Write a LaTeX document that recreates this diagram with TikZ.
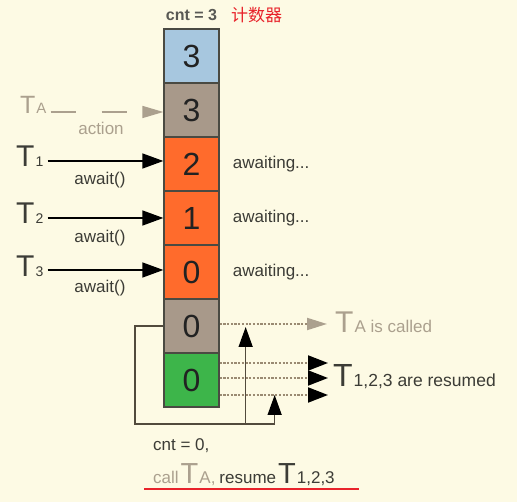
\documentclass[tikz,border=0pt]{standalone}
\usepackage{fontspec}
\setmainfont{Liberation Sans}
\newfontfamily\cjkfont{Noto Sans CJK SC}
\usetikzlibrary{arrows.meta}
\definecolor{bg}{HTML}{FDFAE4}
\definecolor{cblue}{HTML}{A7C7DF}
\definecolor{ctaupe}{HTML}{A8998A}
\definecolor{corange}{HTML}{FF6B2C}
\definecolor{cgreen}{HTML}{3DB54A}
\definecolor{cborder}{HTML}{4A4A42}
\definecolor{cdigit}{HTML}{222222}
\definecolor{cdark}{HTML}{3C3C36}
\definecolor{cgray}{HTML}{ABA08E}
\definecolor{cdot}{HTML}{9A8A72}
\definecolor{cloop}{HTML}{524A3C}
\definecolor{cred}{HTML}{E8232B}
\newcommand\Tlab[3]{{\fontsize{#1}{#1}\selectfont T}\kern1pt{\fontsize{#2}{#2}\selectfont #3}}
\begin{document}
\begin{tikzpicture}[x=1pt,y=-1pt,
  cell/.style={draw=cborder,line width=1.3pt,minimum width=55pt,minimum height=54pt,inner sep=0pt,text=cdigit,font=\fontsize{32}{32}\selectfont},
  lbl/.style={inner sep=0pt,anchor=base west},
  txt/.style={inner sep=0pt,font=\fontsize{17}{17}\selectfont,text=cdark},
  gtxt/.style={txt,text=cgray},
  blkarr/.style={draw=black,line width=1.5pt,-{Triangle[length=21pt,width=15pt]}},
  grayarr/.style={draw=cgray,line width=1.5pt,-{Triangle[length=21pt,width=12pt]}},
  dots/.style={draw=cdot,line width=2pt,dash pattern=on 2.2pt off 1.5pt},
  loopline/.style={draw=cloop,line width=1.5pt},
  looparr/.style={loopline,-{Triangle[length=20pt,width=14pt,color=black]}}
]
\fill[bg] (0,0) rectangle (517,502);
\useasboundingbox (0,0) rectangle (517,502);

% column of cells
\node[cell,fill=cblue]   (b1) at (191.5,56)  {3};
\node[cell,fill=ctaupe]  (b2) at (191.5,110) {3};
\node[cell,fill=corange] (b3) at (191.5,164) {2};
\node[cell,fill=corange] (b4) at (191.5,218) {1};
\node[cell,fill=corange] (b5) at (191.5,272) {0};
\node[cell,fill=ctaupe]  (b6) at (191.5,326) {0};
\node[cell,fill=cgreen]  (b7) at (191.5,380) {0};

% header
\node[txt,anchor=base,font=\bfseries\fontsize{16}{16}\selectfont,text=cdark!85] (cnt3) at (191.5,21) {cnt = 3};
\node[anchor=base west,inner sep=0pt,text=cred,font=\cjkfont\fontsize{17}{17}\selectfont] (jsq) at (231,22) {计数器};

% T_A action
\node[lbl,text=cgray] (TA) at (20,114) {\Tlab{25}{15}{A}};
\node[gtxt,anchor=base] (act) at (101,135) {action};
\draw[grayarr,dash pattern=on 25pt off 26pt on 25pt off 40pt]
  ([shift={(4pt,2pt)}]TA.base east) coordinate (sa) -- (sa -| b2.west);

% T1..T3 await
\node[lbl,text=cdark] (T1) at (16,167) {\Tlab{30}{14}{1}};
\node[lbl,text=cdark] (T2) at (16,224) {\Tlab{30}{14}{2}};
\node[lbl,text=cdark] (T3) at (16,277) {\Tlab{30}{14}{3}};
\draw[blkarr] ([shift={(4pt,6pt)}]T1.base east) coordinate (s1) -- (s1 -| b3.west);
\draw[blkarr] ([shift={(4pt,6pt)}]T2.base east) coordinate (s2) -- (s2 -| b4.west);
\draw[blkarr] ([shift={(4pt,7pt)}]T3.base east) coordinate (s3) -- (s3 -| b5.west);
\node[txt,anchor=base] (aw1) at (100,185) {await()};
\node[txt,anchor=base] (aw2) at (100,243) {await()};
\node[txt,anchor=base] (aw3) at (100,293) {await()};

% awaiting
\node[txt,anchor=west] (w1) at ([xshift=13pt]b3.east) {awaiting...};
\node[txt,anchor=west] (w2) at ([xshift=13pt]b4.east) {awaiting...};
\node[txt,anchor=west] (w3) at ([xshift=13pt]b5.east) {awaiting...};

% T_A is called
\node[lbl,text=cgray] (TAc) at (335,333) {\Tlab{30}{17}{A is called}};
\coordinate (e0) at ([xshift=-8pt]TAc.west);
\draw[dots,-{Triangle[length=20pt,width=12pt,color=cgray]}]
  ([yshift=2pt]b6.east) coordinate (d0) -- (d0 -| e0);

% T_{1,2,3} are resumed
\node[lbl,text=cdark] (Tr) at (333,387) {\Tlab{32}{17.5}{1,2,3 are resumed}};
\coordinate (e1) at ([xshift=-5pt]Tr.west);
\draw[dots,-{Triangle[length=20pt,width=15pt,color=black]}] ([yshift=17pt]b7.east) coordinate (g1) -- (g1 -| e1);
\draw[dots,-{Triangle[length=20pt,width=15pt,color=black]}] ([yshift=2pt]b7.east) coordinate (g2) -- (g2 -| e1);
\draw[dots,-{Triangle[length=20pt,width=15pt,color=black]}] ([yshift=-15pt]b7.east) coordinate (g3) -- (g3 -| e1);

% feedback loop
\coordinate (lc) at (135,424);
\coordinate (t1) at ([shift={(26pt,-3pt)}]d0);
\coordinate (t2) at ([xshift=55pt]g3);
\draw[looparr] (b6.west) -| (lc) -| (t2);
\draw[looparr] (lc -| t1) -- (t1);

% bottom text
\node[txt,anchor=base west] (cnt0) at (153,451) {cnt = 0,};
\node[lbl,font=\fontsize{17}{17}\selectfont] (call) at (153,483)
  {\textcolor{cgray}{call\kern2pt\Tlab{29}{17}{A,}}\kern4pt\textcolor{cdark}{resume\kern2pt\Tlab{29}{17}{1,2,3}}};
\draw[cred,line width=2pt] ([shift={(-9pt,-6pt)}]call.base west) -- ([shift={(24pt,-6pt)}]call.base east);
\end{tikzpicture}
\end{document}
